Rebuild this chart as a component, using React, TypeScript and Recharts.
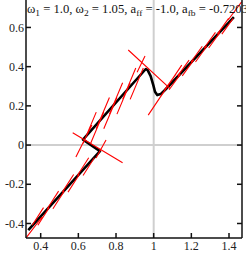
import React from 'react';
import { LineChart, Line, XAxis, YAxis, ReferenceLine } from 'recharts';

const xTicks = [0.4, 0.6, 0.8, 1, 1.2, 1.4];
const yTicks = [-0.4, -0.2, 0, 0.2, 0.4, 0.6];
const xDomain: [number, number] = [0.322, 1.469];
const yDomain: [number, number] = [-0.474, 0.74];

// black trajectory
const curveX = [0.334, 0.715, 0.6245, 0.958, 0.968, 0.984, 0.998, 1.007, 1.019, 1.037, 1.06, 1.426];
const curveY = [-0.434, -0.031, 0.028, 0.388, 0.382, 0.352, 0.306, 0.272, 0.255, 0.26, 0.281, 0.653];

// red segments [x1, y1, x2, y2]
const redSegments: number[][] = [
  [0.322, -0.474, 0.407, -0.367],
  [0.355, -0.409, 0.415, -0.319],
  [0.385, -0.409, 0.445, -0.319],
  [0.435, -0.325, 0.495, -0.235],
  [0.465, -0.325, 0.525, -0.235],
  [0.515, -0.24, 0.575, -0.15],
  [0.545, -0.24, 0.605, -0.15],
  [0.595, -0.155, 0.655, -0.065],
  [0.625, -0.155, 0.685, -0.065],
  [0.57, 0.063, 0.835, -0.09],
  [0.587, -0.061, 0.672, 0.102],
  [0.694, -0.066, 0.747, 0.026],
  [0.625, 0.008, 0.695, 0.168],
  [0.665, 0.008, 0.735, 0.168],
  [0.695, 0.083, 0.765, 0.243],
  [0.735, 0.083, 0.805, 0.243],
  [0.765, 0.158, 0.835, 0.318],
  [0.805, 0.158, 0.875, 0.318],
  [0.835, 0.233, 0.905, 0.393],
  [0.875, 0.233, 0.945, 0.393],
  [0.865, 0.485, 1.086, 0.289],
  [0.912, 0.372, 0.954, 0.454],
  [0.971, 0.153, 1.149, 0.408],
  [1.058, 0.282, 1.118, 0.362],
  [1.082, 0.282, 1.142, 0.362],
  [1.128, 0.353, 1.188, 0.433],
  [1.152, 0.353, 1.212, 0.433],
  [1.198, 0.424, 1.258, 0.504],
  [1.222, 0.424, 1.282, 0.504],
  [1.268, 0.495, 1.328, 0.575],
  [1.292, 0.495, 1.352, 0.575],
  [1.338, 0.566, 1.398, 0.646],
  [1.362, 0.566, 1.422, 0.646],
  [1.395, 0.638, 1.467, 0.731],
];

const curveData = curveX.map((x, i) => ({ x, y: curveY[i] }));
const redData = redSegments.flatMap(([x1, y1, x2, y2]) => [
  { x: x1, y: y1 },
  { x: x2, y: y2 },
  { x: x2, y: null },
]);

const FONT = '"Liberation Serif", "Times New Roman", serif';
const AXIS = '#111';

const BottomTick = (props: any) => {
  const { x, y, payload } = props;
  return (
    <g>
      <line x1={x} x2={x} y1={y - 12} y2={y - 17} stroke={AXIS} strokeWidth={1.5} />
      <text x={x} y={y} textAnchor="middle" fontFamily={FONT} fontSize={12} fill="#222">
        {String(payload.value)}
      </text>
    </g>
  );
};

const LeftTick = (props: any) => {
  const { x, y, payload } = props;
  return (
    <g>
      <line x1={x + 2} x2={x + 7} y1={y} y2={y} stroke={AXIS} strokeWidth={1.5} />
      <text x={x} y={y} dy="0.35em" textAnchor="end" fontFamily={FONT} fontSize={12} fill="#222">
        {String(payload.value)}
      </text>
    </g>
  );
};

const RightTick = (props: any) => {
  const { x, y } = props;
  return <line x1={x} x2={x - 5} y1={y} y2={y} stroke={AXIS} strokeWidth={1.5} />;
};

export default function App() {
  return (
    <div style={{ position: 'absolute', left: 0, top: 0, width: 246, height: 260, background: '#fff' }}>
      <LineChart width={246} height={260} margin={{ top: 0, right: 0, bottom: 0, left: 0 }}>
        <XAxis
          dataKey="x"
          type="number"
          domain={xDomain}
          ticks={xTicks}
          allowDataOverflow
          height={22}
          tickLine={false}
          tickSize={0}
          tickMargin={12}
          tick={<BottomTick />}
          axisLine={{ stroke: AXIS, strokeWidth: 1.5 }}
          interval={0}
        />
        <YAxis
          type="number"
          domain={yDomain}
          ticks={yTicks}
          allowDataOverflow
          width={26}
          tickLine={false}
          tickSize={0}
          tickMargin={2}
          tick={<LeftTick />}
          axisLine={{ stroke: AXIS, strokeWidth: 1.5 }}
          interval={0}
        />
        <YAxis
          yAxisId="r"
          orientation="right"
          type="number"
          domain={yDomain}
          ticks={yTicks}
          allowDataOverflow
          width={4}
          tickLine={false}
          tickSize={0}
          tickMargin={0}
          tick={<RightTick />}
          axisLine={{ stroke: AXIS, strokeWidth: 1.5 }}
          interval={0}
        />
        <ReferenceLine x={1} stroke="#cfcfcf" strokeWidth={2} />
        <ReferenceLine y={0} stroke="#cfcfcf" strokeWidth={2} />
        <Line
          data={curveData}
          dataKey="y"
          type="linear"
          stroke="#000"
          strokeWidth={2.6}
          strokeLinejoin="round"
          dot={false}
          activeDot={false}
          isAnimationActive={false}
        />
        <Line
          data={redData}
          dataKey="y"
          type="linear"
          stroke="#ff0000"
          strokeWidth={1.1}
          dot={false}
          activeDot={false}
          connectNulls={false}
          isAnimationActive={false}
        />
      </LineChart>
      <svg
        width={246}
        height={260}
        style={{ position: 'absolute', left: 0, top: 0, pointerEvents: 'none' }}
      >
        <text
          x={27}
          y={12.5}
          fontFamily={FONT}
          fontSize={12}
          fill="#111"
          textLength={221}
          lengthAdjust="spacingAndGlyphs"
        >
          ω<tspan dy={3} fontSize={9}>1</tspan>
          <tspan dy={-3}>{' = 1.0, ω'}</tspan>
          <tspan dy={3} fontSize={9}>2</tspan>
          <tspan dy={-3}>{' = 1.05, a'}</tspan>
          <tspan dy={3} fontSize={9}>ff</tspan>
          <tspan dy={-3}>{' = -1.0, a'}</tspan>
          <tspan dy={3} fontSize={9}>fb</tspan>
          <tspan dy={-3}>{' = -0.7203'}</tspan>
        </text>
      </svg>
    </div>
  );
}
